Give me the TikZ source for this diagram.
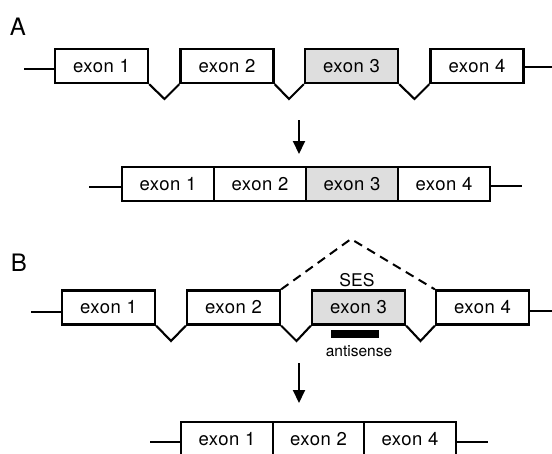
\documentclass[tikz,border=0pt]{standalone}
\usepackage{fontspec}
\setmainfont{TeX Gyre Heros}
\newfontfamily\exonfont[LetterSpace=3]{TeX Gyre Heros}
\usetikzlibrary{arrows.meta}
\begin{document}
\begin{tikzpicture}[x=1pt,y=-1pt,
  exonbox/.style={draw,line width=2.3pt,minimum width=93pt,minimum height=34pt,inner sep=0pt,fill=white,font=\exonfont\fontsize{18.5}{20}\selectfont},
  joinedbox/.style={exonbox,minimum width=92pt},
  shaded/.style={fill=black!13},
  wire/.style={line width=2pt},
  intron/.style={line width=2.1pt,line join=miter},
  skip/.style={line width=2pt,dashed,dash pattern=on 9pt off 6pt},
  downarrow/.style={line width=2pt,-{Triangle[width=12pt,length=13pt]}},
  panel/.style={font=\fontsize{24}{26}\selectfont,inner sep=0pt}
]
\clip (0,0) rectangle (552,453);
\useasboundingbox (0,0) rectangle (552,453);

% ---------- Panel A ----------
\node[panel] (labA) at (18,27) {A};
\node[exonbox] (a1) at (101.5,66) {exon 1};
\node[exonbox] (a2) at (227,66) {exon 2};
\node[exonbox,shaded] (a3) at (351.5,66) {exon 3};
\node[exonbox] (a4) at (477,66) {exon 4};
\coordinate (aL) at (24,69);
\coordinate (aR) at (552,67);
\draw[wire] (aL) -- (aL -| a1.west);
\draw[wire] (a4.east |- aR) -- (aR);
\coordinate (va1) at (164.5,99);
\coordinate (va2) at (289,99);
\coordinate (va3) at (414.5,99);
\draw[intron] (a1.south east) -- (va1) -- (a2.south west);
\draw[intron] (a2.south east) -- (va2) -- (a3.south west);
\draw[intron] (a3.south east) -- (va3) -- (a4.south west);

\coordinate (arA1) at (299,120);
\coordinate (arA2) at (299,154);
\draw[downarrow] (arA1) -- (arA2);

\node[joinedbox] (m1) at (168,184) {exon 1};
\node[joinedbox] (m2) at (260,184) {exon 2};
\node[joinedbox,shaded] (m3) at (352,184) {exon 3};
\node[joinedbox] (m4) at (444,184) {exon 4};
\coordinate (mL) at (89,187);
\coordinate (mR) at (522,186);
\draw[wire] (mL) -- (mL -| m1.west);
\draw[wire] (m4.east |- mR) -- (mR);

% ---------- Panel B ----------
\node[panel] (labB) at (19,263) {B};
\node[exonbox] (b1) at (108.5,307.5) {exon 1};
\node[exonbox] (b2) at (233.5,307.5) {exon 2};
\node[exonbox,shaded] (b3) at (358.5,307.5) {exon 3};
\node[exonbox] (b4) at (482.5,307.5) {exon 4};
\coordinate (bL) at (31,312);
\coordinate (bR) at (552,311);
\draw[wire] (bL) -- (bL -| b1.west);
\draw[wire] (b4.east |- bR) -- (bR);
\coordinate (vb1) at (171,341);
\coordinate (vb2) at (296.5,341);
\coordinate (vb3) at (420.5,341);
\draw[intron] (b1.south east) -- (vb1) -- (b2.south west);
\draw[intron] (b2.south east) -- (vb2) -- (b3.south west);
\draw[intron] (b3.south east) -- (vb3) -- (b4.south west);
\coordinate (apex) at (351,239);
\draw[skip] (b2.north east) -- (apex) -- (b4.north west);
\node[font=\fontsize{17.5}{19}\selectfont,inner sep=0pt] (ses) at (357,280) {SES};
\node[fill=black,minimum width=48pt,minimum height=8.5pt,inner sep=0pt] (anti) at (355,334) {};
\node[font=\fontsize{15.5}{17}\selectfont,inner sep=0pt] (antilab) at (359,351) {antisense};

\coordinate (arB1) at (299,363);
\coordinate (arB2) at (299,403);
\draw[downarrow] (arB1) -- (arB2);

\node[joinedbox] (n1) at (227,439) {exon 1};
\node[joinedbox,minimum width=91pt] (n2) at (318.5,439) {exon 2};
\node[joinedbox] (n4) at (410,439) {exon 4};
\coordinate (nL) at (150,442);
\coordinate (nR) at (488,442);
\draw[wire] (nL) -- (nL -| n1.west);
\draw[wire] (n4.east |- nR) -- (nR);
\end{tikzpicture}
\end{document}
